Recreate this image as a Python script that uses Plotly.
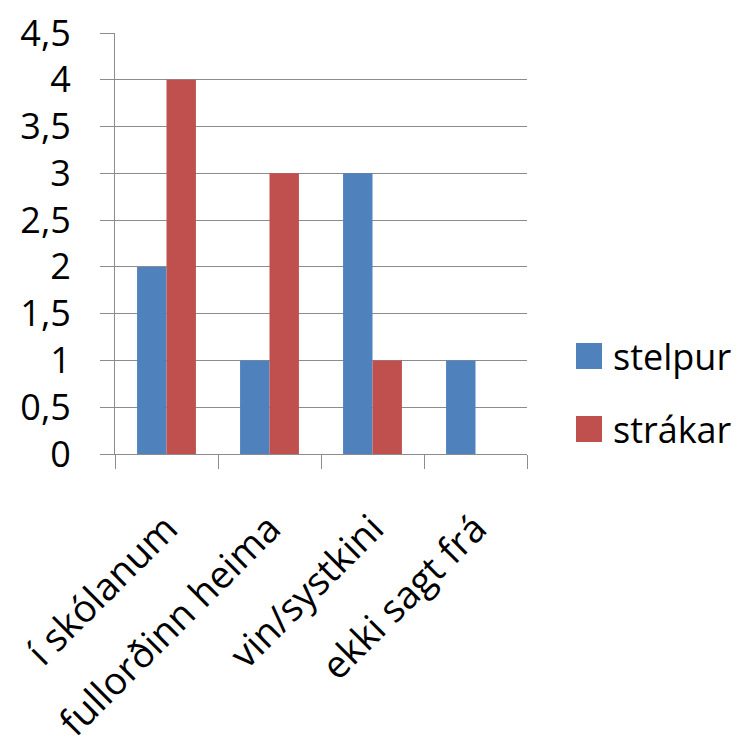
import plotly.graph_objects as go

categories = ["í skólanum", "fullorðinn heima", "vin/systkini", "ekki sagt frá"]
stelpur = [2, 1, 3, 1]
strakar = [4, 3, 1, 0]
series_names = ["stelpur", "strákar"]
colors = ["#4F81BD", "#C0504D"]

W, H = 750, 752
L, R, T, B = 115, 527, 33, 454  # plot area in pixels
FONT = "Open Sans"
FS = 36
GRID = "#8C8C8C"

fig = go.Figure()
for name, vals, col in zip(series_names, [stelpur, strakar], colors):
    fig.add_trace(go.Bar(x=categories, y=vals, name=name, marker_color=col,
                         marker_line_width=0, showlegend=False))


def px_to_paper(x, y):
    return (x - L) / (R - L), (B - y) / (B - T)


# Legend drawn as squares plus labels on the right side
shapes, annotations = [], []
for i, (name, col) in enumerate(zip(series_names, colors)):
    cy = 356 + 73 * i
    x0, y0 = px_to_paper(576, cy + 13)
    x1, y1 = px_to_paper(602, cy - 13)
    shapes.append(dict(type="rect", xref="paper", yref="paper", x0=x0, x1=x1,
                       y0=y0, y1=y1, fillcolor=col, line_width=0))
    tx, ty = px_to_paper(611, cy)
    annotations.append(dict(xref="paper", yref="paper", x=tx, y=ty, text=name,
                            showarrow=False, xanchor="left", yanchor="middle",
                            font=dict(family=FONT, size=FS, color="black")))

fig.update_layout(
    width=W, height=H,
    margin=dict(l=L, r=W - R, t=T, b=H - B, autoexpand=False),
    paper_bgcolor="white", plot_bgcolor="white",
    separators=", ",
    barmode="group", bargap=1.5 / 3.5, bargroupgap=0,
    showlegend=False,
    shapes=shapes, annotations=annotations,
    font=dict(family=FONT, size=FS, color="black"),
)
fig.update_xaxes(
    type="category", tickson="boundaries", ticks="outside", ticklen=14,
    tickcolor=GRID, tickwidth=1, showline=True, linecolor=GRID, linewidth=1,
    showgrid=False, tickangle=-45, automargin=False, ticklabelstandoff=36,
    tickfont=dict(family=FONT, size=38, color="black"),
)
fig.update_yaxes(
    range=[0, 4.5], dtick=0.5, tick0=0, ticks="outside", ticklen=14,
    tickcolor=GRID, tickwidth=1, showline=True, linecolor=GRID, linewidth=1,
    showgrid=True, gridcolor=GRID, gridwidth=1, zeroline=False,
    ticklabelstandoff=22, automargin=False,
    tickfont=dict(family=FONT, size=FS, color="black"),
)

fig.write_html("out.html")
